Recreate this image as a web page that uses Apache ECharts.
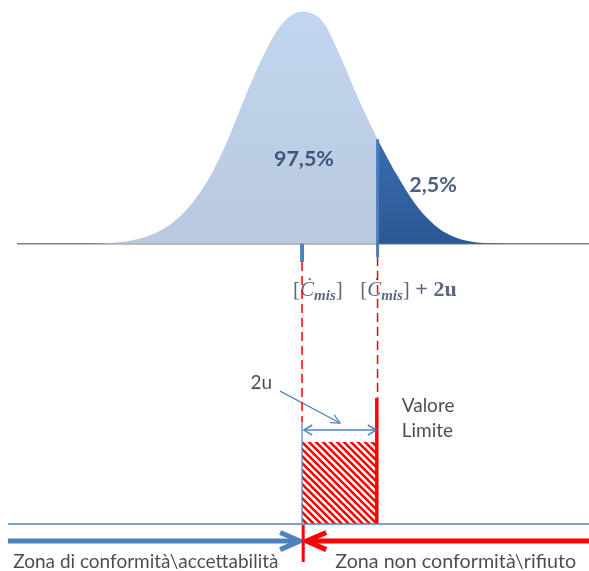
<!DOCTYPE html>
<html><head><meta charset="utf-8">
<script src="https://cdn.jsdelivr.net/npm/echarts@6/dist/echarts.min.js"></script>
<style>html,body{margin:0;padding:0;background:#fff}#c{width:589px;height:571px}</style>
</head><body><div id="c"></div>
<script>
// Curve readings: x in units of u from the mean, height relative to the peak
const curveX = [-5.5,-5,-4.5,-4,-3.5,-3,-2.5,-2,-1.5,-1,-0.5,0,0.5,1,1.5,2,2.5,3,3.5,4,4.5,5,5.5];
const curveY = [0,0.004,0.015,0.038,0.082,0.157,0.272,0.435,0.635,0.818,0.952,1.0,0.966,0.812,0.622,0.450,0.300,0.171,0.082,0.031,0.009,0.002,0];
const MEAN = 0, LIMIT = 2;             // [C_mis] and [C_mis] + 2u
const pctLabels = ['97,5%', '2,5%'];
const zoneLabels = ['Zona di conformità\\accettabilità', 'Zona non conformità\\rifiuto'];
const limitLabel = 'Valore\nLimite';
const uLabel = '2u';

const X0 = -8, X1 = 7.6, Y0 = -1.41, Y1 = 1.05;
const lightPts = [], darkPts = [];
curveX.forEach((x, i) => { if (x <= LIMIT) lightPts.push([x, curveY[i]]); if (x >= LIMIT) darkPts.push([x, curveY[i]]); });
const limitH = curveY[curveX.indexOf(LIMIT)];

// hatch pattern
const pc = document.createElement('canvas'); pc.width = 7; pc.height = 7;
const g = pc.getContext('2d'); g.strokeStyle = '#ff0000'; g.lineWidth = 2.6;
[-7, 0, 7].forEach(c => { g.beginPath(); g.moveTo(c - 1, -1); g.lineTo(c + 8, 8); g.stroke(); });
const hatch = { image: pc, repeat: 'repeat' };

const BLUE = '#4f81bd', RED = '#ff0000';
function seg(data, color, width, type, z) {
  return { type: 'line', data, symbol: 'none', silent: true, z: z || 5, animation: false,
    lineStyle: { color, width, type: type || 'solid', cap: 'butt', join: 'miter' } };
}
const boxTop = -0.854, boxBot = -1.208, zoneY = -1.281;
const txt = { fontFamily: 'Lato', fontSize: 19, color: '#1e1e1e' };
const MC = '#33415e';
const mathRich = {
  n: { fontFamily: 'Liberation Serif', fontSize: 21, color: MC },
  i: { fontFamily: 'Liberation Serif', fontStyle: 'italic', fontSize: 21, color: MC },
  s: { fontFamily: 'Liberation Serif', fontStyle: 'italic', fontWeight: 'bold', fontSize: 15, color: MC, padding: [11, 0, 0, 0] },
  b: { fontFamily: 'Liberation Serif', fontWeight: 'bold', fontSize: 22, color: MC }
};
function lab(name, x, y, label) {
  return { name, value: [x, y], label: Object.assign({ show: true, position: 'inside', formatter: '{b}', verticalAlign: 'middle' }, label) };
}
const pct = { fontFamily: 'Lato', fontWeight: 'bold', fontSize: 21.5, color: '#1f3760' };
const texts = [
  lab(pctLabels[0], 0.05, 0.364, pct),
  lab(pctLabels[1], 3.47, 0.253, pct),
  lab('m1', 0.42, -0.2, { formatter: '{n|[}{i|Ċ}{s|mis}{n|]}', rich: mathRich }),
  lab('m2', 1.54, -0.2, { align: 'left', formatter: '{n|[}{i|Ċ}{s|mis}{n|]}{b| + 2u}', rich: mathRich }),
  lab(uLabel, -1.08, -0.600, txt),
  lab(limitLabel, 2.64, -0.753, Object.assign({ align: 'left', lineHeight: 25 }, txt)),
  lab(zoneLabels[0], -7.65, -1.371, Object.assign({ align: 'left' }, txt)),
  lab(zoneLabels[1], 0.88, -1.371, Object.assign({ align: 'left' }, txt, { fontSize: 19.7 }))
];

const chart = echarts.init(document.getElementById('c'));
chart.setOption({
  animation: false,
  grid: { left: 0, right: 0, top: 0, bottom: 0 },
  xAxis: { type: 'value', min: X0, max: X1, show: false },
  yAxis: { type: 'value', min: Y0, max: Y1, show: false },
  series: [
    seg([[-7.55, 0], [X1, 0]], '#808080', 1.5, 'solid', 1),
    { type: 'line', data: lightPts, smooth: 0.35, symbol: 'none', z: 2, lineStyle: { width: 0 },
      areaStyle: { opacity: 1, color: new echarts.graphic.LinearGradient(0, 0, 0, 1, [{ offset: 0, color: '#c1d6ef' }, { offset: 1, color: '#b9c9de' }]) } },
    { type: 'line', data: darkPts, smooth: 0.35, symbol: 'none', z: 2, lineStyle: { width: 0 },
      areaStyle: { opacity: 1, color: new echarts.graphic.LinearGradient(0, 0, 0, 1, [{ offset: 0, color: '#3a6db1' }, { offset: 1, color: '#2b5894' }]) } },
    seg([[LIMIT, limitH], [LIMIT, -0.057]], '#4a7ebb', 3),
    seg([[MEAN, 0], [MEAN, -0.079]], BLUE, 4),
    { type: 'custom', data: [[MEAN, LIMIT, boxTop, boxBot]], z: 3, silent: true,
      encode: { x: [0, 1], y: [2, 3] },
      renderItem: (p, api) => {
        const a = api.coord([api.value(0), api.value(2)]);
        const b = api.coord([api.value(1), api.value(3)]);
        return { type: 'rect', shape: { x: a[0], y: a[1], width: b[0] - a[0], height: b[1] - a[1] }, style: { fill: hatch } };
      } },
    seg([[MEAN, -0.079], [MEAN, -0.77]], RED, 1.5, [9, 5], 6),
    seg([[LIMIT, -0.057], [LIMIT, -0.665]], RED, 1.5, [9, 5], 6),
    seg([[LIMIT - 0.02, -0.665], [LIMIT - 0.02, boxBot]], RED, 3.5),
    seg([[MEAN, -0.772], [MEAN, boxBot]], BLUE, 1.2),
    seg([[0.05, -0.803], [1.96, -0.803]], BLUE, 1.5),
    seg([[0.27, -0.781], [0.05, -0.803], [0.27, -0.825]], BLUE, 1.5),
    seg([[1.74, -0.781], [1.96, -0.803], [1.74, -0.825]], BLUE, 1.5),
    seg([[-0.583, -0.635], [1.006, -0.7725]], BLUE, 1.2),
    seg([[0.853, -0.737], [1.006, -0.7725], [0.739, -0.771]], BLUE, 1.2),
    seg([[-7.79, boxBot], [X1, boxBot]], BLUE, 1.5),
    seg([[0.03, -1.212], [0.03, -1.371]], RED, 3),
    seg([[-7.79, zoneY], [-0.12, zoneY]], BLUE, 5),
    seg([[-0.58, zoneY + 0.037], [-0.06, zoneY], [-0.58, zoneY - 0.037]], BLUE, 5),
    seg([[0.18, zoneY], [X1, zoneY]], RED, 5),
    seg([[0.64, zoneY + 0.037], [0.12, zoneY], [0.64, zoneY - 0.037]], RED, 5),
    { type: 'scatter', data: texts, symbolSize: 0, silent: true, z: 4, animation: false }
  ]
});
</script></body></html>
